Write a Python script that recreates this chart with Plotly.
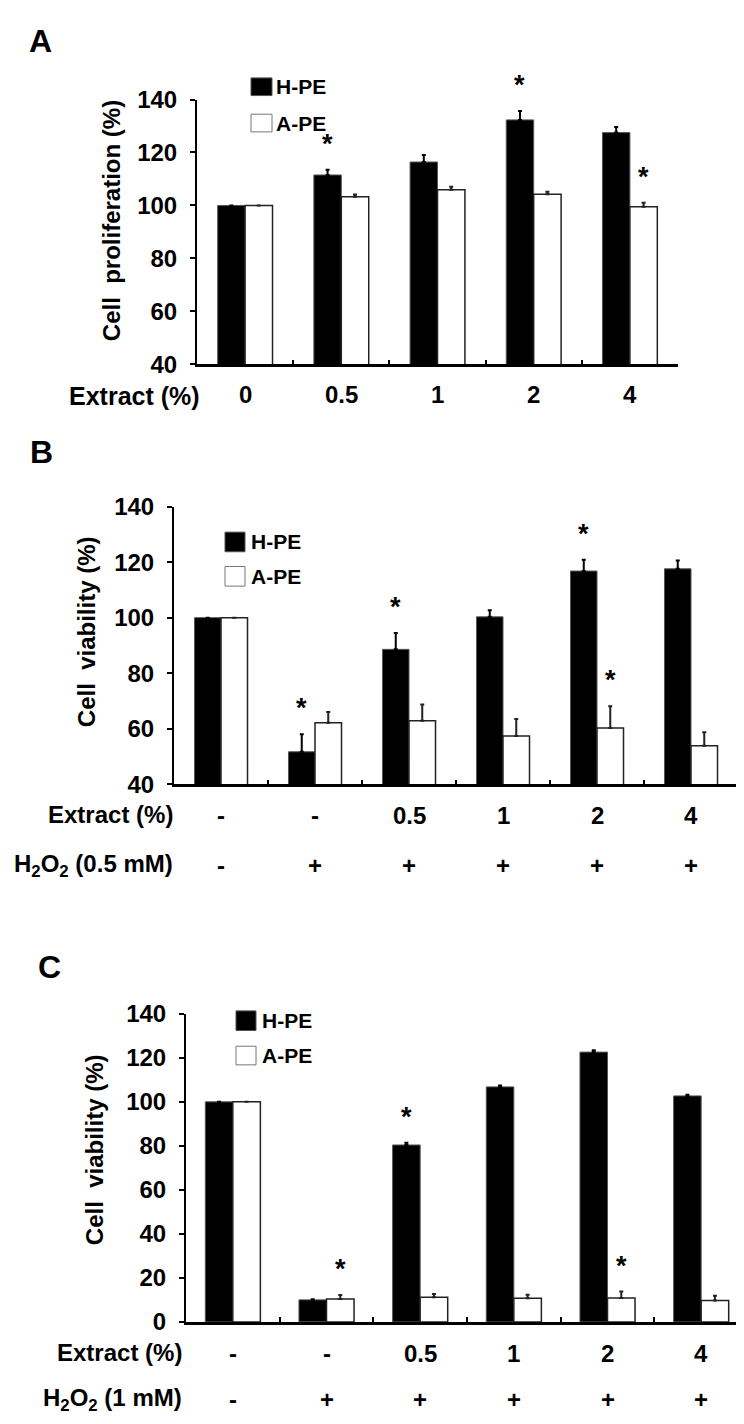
import plotly.graph_objects as go

W, H = 744, 1424
FONT = "Liberation Sans, Arial, sans-serif"

# ---------------- data ----------------
# Panel A
a_extract = ["0", "0.5", "1", "2", "4"]
a_hpe = [100, 111.5, 116.4, 132.3, 127.5]
a_hpe_err = [0, 2.0, 2.6, 3.4, 2.1]
a_ape = [100, 103.3, 105.9, 104.2, 99.5]
a_ape_err = [0, 0.8, 1.2, 1.0, 1.5]
a_sig_h = [0, 1, 0, 1, 0]
a_sig_a = [0, 0, 0, 0, 1]

# Panel B
b_extract = ["-", "-", "0.5", "1", "2", "4"]
b_h2o2 = ["-", "+", "+", "+", "+", "+"]
b_hpe = [100, 51.7, 88.6, 100.3, 116.8, 117.6]
b_hpe_err = [0, 6.3, 5.9, 2.4, 4.1, 3.0]
b_ape = [100, 62.2, 62.9, 57.4, 60.3, 53.9]
b_ape_err = [0, 3.8, 5.8, 6.1, 7.8, 4.8]
b_sig_h = [0, 1, 1, 0, 1, 0]
b_sig_a = [0, 0, 0, 0, 1, 0]

# Panel C
c_extract = ["-", "-", "0.5", "1", "2", "4"]
c_h2o2 = ["-", "+", "+", "+", "+", "+"]
c_hpe = [100, 10.0, 80.4, 106.8, 122.6, 102.7]
c_hpe_err = [0, 0.3, 1.0, 0.6, 0.9, 0.5]
c_ape = [100, 10.4, 11.2, 10.7, 10.9, 9.7]
c_ape_err = [0, 1.8, 1.5, 1.6, 2.9, 2.2]
c_sig_h = [0, 0, 1, 0, 0, 0]
c_sig_a = [0, 1, 0, 0, 1, 0]

series_names = ["H-PE", "A-PE"]
y_ticks = {"A": [40, 60, 80, 100, 120, 140],
           "B": [40, 60, 80, 100, 120, 140],
           "C": [0, 20, 40, 60, 80, 100, 120, 140]}


def px(x):
    return x / W


def py(y):
    return 1 - y / H


def bfont(size):
    return dict(family=FONT, size=size, color="black", weight="bold")


fig = go.Figure()

panels = [
    dict(key="A", ax="", xpx=(189, 670), ypx=(349, 79), yr=[40, 140], w=0.285,
         h=a_hpe, he=a_hpe_err, a=a_ape, ae=a_ape_err, sh=a_sig_h, sa=a_sig_a,
         ytitle="Cell\u00a0 proliferation (%)", ytpos=(103, 202)),
    dict(key="B", ax="2", xpx=(166, 730), ypx=(777, 494), yr=[40, 140], w=0.282,
         h=b_hpe, he=b_hpe_err, a=b_ape, ae=b_ape_err, sh=b_sig_h, sa=b_sig_a,
         ytitle="Cell\u00a0 viability (%)", ytpos=(78, 622)),
    dict(key="C", ax="3", xpx=(178, 740), ypx=(1325, 1011), yr=[0, 140], w=0.294,
         h=c_hpe, he=c_hpe_err, a=c_ape, ae=c_ape_err, sh=c_sig_h, sa=c_sig_a,
         ytitle="Cell\u00a0 viability (%)", ytpos=(86, 1150)),
]

annotations = []
shapes = []
layout_axes = {}

for p in panels:
    n = len(p["h"])
    xs = list(range(n))
    xa = "x" + p["ax"]
    ya = "y" + p["ax"]
    w = p["w"]
    fig.add_trace(go.Bar(
        x=xs, y=p["h"], width=w, offset=-w, name=series_names[0],
        marker=dict(color="black", line=dict(color="#555555", width=1)),
        error_y=dict(type="data", array=p["he"], arrayminus=[0] * n, symmetric=False,
                     color="black", thickness=2, width=2),
        xaxis=xa, yaxis=ya, showlegend=False))
    fig.add_trace(go.Bar(
        x=xs, y=p["a"], width=w, offset=0, name=series_names[1],
        marker=dict(color="white", line=dict(color="#222222", width=1.5)),
        error_y=dict(type="data", array=p["ae"], arrayminus=[0] * n, symmetric=False,
                     color="#222222", thickness=2, width=2),
        xaxis=xa, yaxis=ya, showlegend=False))

    xname = "xaxis" + p["ax"]
    yname = "yaxis" + p["ax"]
    layout_axes[xname] = dict(
        domain=[px(p["xpx"][0]), px(p["xpx"][1])], range=[-0.5, n - 0.5],
        anchor=ya, showgrid=False, zeroline=False, showline=True,
        linecolor="black", linewidth=2.5, tickmode="array",
        tickvals=[i + 0.5 for i in range(-1, n)], ticks="inside", ticklen=5,
        tickwidth=2, tickcolor="black", showticklabels=False)
    layout_axes[yname] = dict(
        domain=[py(p["ypx"][0]), py(p["ypx"][1])], range=p["yr"],
        anchor=xa, showgrid=False, zeroline=False, showline=True,
        linecolor="black", linewidth=2, tickmode="array",
        tickvals=y_ticks[p["key"]], ticks="outside", ticklen=5, tickwidth=2,
        tickcolor="black", ticklabelstandoff=8, tickfont=bfont(24))

    # significance stars
    star = dict(showarrow=False, yanchor="bottom", yshift=10, borderpad=0,
                font=bfont(27))
    for i in range(n):
        if p["sh"][i]:
            annotations.append(dict(x=i - w / 2, y=p["h"][i] + p["he"][i], xref=xa, yref=ya,
                                    text="*", **star))
        if p["sa"][i]:
            annotations.append(dict(x=i + w / 2, y=p["a"][i] + p["ae"][i], xref=xa, yref=ya,
                                    text="*", **star))

    # y title
    annotations.append(dict(x=px(p["ytpos"][0]), y=py(p["ytpos"][1]), xref="paper", yref="paper",
                            text=p["ytitle"], textangle=-90, showarrow=False,
                            xanchor="center", yanchor="middle", font=bfont(24)))

lab_font = bfont(24)

# panel A x labels
for i, t in enumerate(a_extract):
    annotations.append(dict(x=i, y=py(380), xref="x", yref="paper", text=t, showarrow=False,
                            xanchor="center", yanchor="middle", font=lab_font))
annotations.append(dict(x=px(194), y=py(381), xref="paper", yref="paper", text="Extract (%)",
                        showarrow=False, xanchor="right", yanchor="middle", font=bfont(25)))

# panel B rows
for i, t in enumerate(b_extract):
    annotations.append(dict(x=i, y=py(809), xref="x2", yref="paper", text=t, showarrow=False,
                            xanchor="center", yanchor="middle", font=lab_font))
for i, t in enumerate(b_h2o2):
    annotations.append(dict(x=i, y=py(860), xref="x2", yref="paper", text=t, showarrow=False,
                            xanchor="center", yanchor="middle", font=lab_font))
annotations.append(dict(x=px(167), y=py(808), xref="paper", yref="paper", text="Extract (%)",
                        showarrow=False, xanchor="right", yanchor="middle", font=lab_font))
annotations.append(dict(x=px(167), y=py(860), xref="paper", yref="paper",
                        text="H<sub>2</sub>O<sub>2</sub> (0.5 mM)",
                        showarrow=False, xanchor="right", yanchor="middle", font=lab_font))

# panel C rows
for i, t in enumerate(c_extract):
    annotations.append(dict(x=i, y=py(1357), xref="x3", yref="paper", text=t, showarrow=False,
                            xanchor="center", yanchor="middle", font=lab_font))
for i, t in enumerate(c_h2o2):
    annotations.append(dict(x=i, y=py(1404), xref="x3", yref="paper", text=t, showarrow=False,
                            xanchor="center", yanchor="middle", font=lab_font))
annotations.append(dict(x=px(176), y=py(1356), xref="paper", yref="paper", text="Extract (%)",
                        showarrow=False, xanchor="right", yanchor="middle", font=lab_font))
annotations.append(dict(x=px(176), y=py(1404), xref="paper", yref="paper",
                        text="H<sub>2</sub>O<sub>2</sub> (1 mM)",
                        showarrow=False, xanchor="right", yanchor="middle", font=lab_font))

# panel letters
for letter, (lx, ly) in zip(["A", "B", "C"], [(32, 19), (33, 438), (41, 963)]):
    annotations.append(dict(x=px(lx), y=py(ly), xref="paper", yref="paper", text=letter,
                            showarrow=False, xanchor="center", yanchor="middle",
                            font=bfont(32)))

# custom legends
legend_pos = [
    (243, 264, 57, 75, 94, 112, 267),
    (217, 237, 520, 540, 555, 575, 242),
    (228, 248, 1008, 1028, 1044, 1063, 253),
]
for (x0, x1, t1, b1, t2, b2, tx) in legend_pos:
    shapes.append(dict(type="rect", xref="paper", yref="paper", x0=px(x0), x1=px(x1),
                       y0=py(b1), y1=py(t1), fillcolor="black",
                       line=dict(color="#555555", width=1)))
    shapes.append(dict(type="rect", xref="paper", yref="paper", x0=px(x0), x1=px(x1),
                       y0=py(b2), y1=py(t2), fillcolor="white",
                       line=dict(color="#777777", width=1)))
    for name, (tt, bb) in zip(series_names, [(t1, b1), (t2, b2)]):
        annotations.append(dict(x=px(tx), y=py((tt + bb) / 2), xref="paper", yref="paper",
                                text=name, showarrow=False, xanchor="left", yanchor="middle",
                                borderpad=0, font=bfont(21)))

fig.update_layout(
    width=W, height=H, margin=dict(l=0, r=0, t=0, b=0),
    paper_bgcolor="white", plot_bgcolor="white",
    barmode="overlay", showlegend=False,
    annotations=annotations, shapes=shapes,
    font=dict(family=FONT, color="black"),
    **layout_axes,
)

fig.write_html("out.html")
